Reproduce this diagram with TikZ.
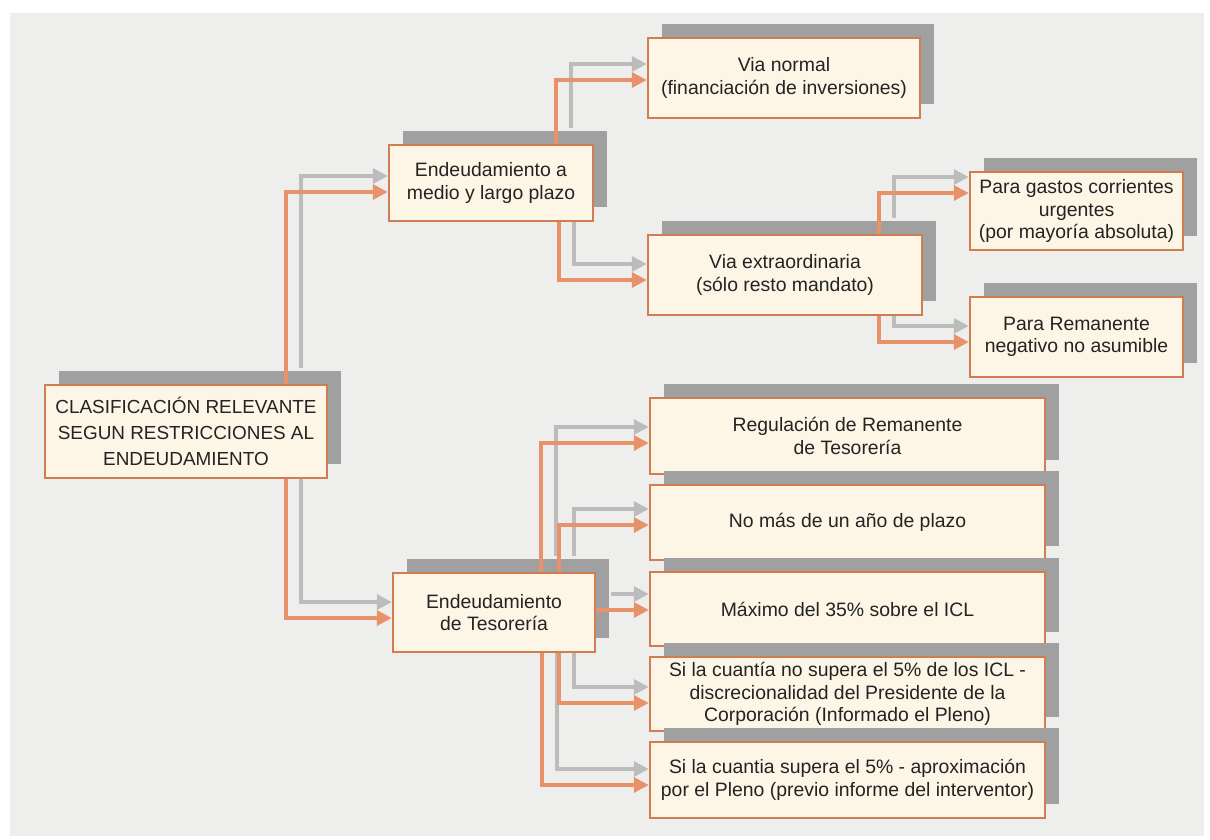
\documentclass[tikz,border=0pt]{standalone}
\usepackage{fontspec}
\setmainfont{Liberation Sans}
\usetikzlibrary{arrows.meta,shadows}
\definecolor{bgc}{RGB}{238,238,237}
\definecolor{boxline}{RGB}{208,125,82}
\definecolor{boxfill}{RGB}{253,246,231}
\definecolor{shadowc}{RGB}{160,160,160}
\definecolor{oc}{RGB}{231,146,104}
\definecolor{gc}{RGB}{188,188,188}
\definecolor{txt}{RGB}{35,35,35}
\pgfdeclarelayer{back}
\pgfdeclarelayer{glines}
\pgfsetlayers{back,glines,main}
\newcommand\twin[1]{%
  \begin{pgfonlayer}{glines}\draw[gline,transform canvas={xshift=15pt,yshift=16pt}] #1;\end{pgfonlayer}%
  \draw[oline] #1;}
\begin{document}
\begin{tikzpicture}[x=1pt,y=-1pt,
  box/.style={draw=boxline, line width=2.5pt, fill=boxfill, inner sep=0pt, align=center, text=txt,
    font=\fontsize{19.4}{22.5}\selectfont,
    drop shadow={shadow xshift=14pt, shadow yshift=14pt, fill=shadowc, opacity=1}},
  oline/.style={draw=oc, line width=3.5pt, -{Triangle[length=15pt,width=15pt]}},
  gline/.style={draw=gc, line width=3.5pt, -{Triangle[length=15pt,width=15pt]}, shorten >=15pt},
]
\useasboundingbox (0,0) rectangle (1210,839);
\begin{pgfonlayer}{back}
  \fill[white] (0,0) rectangle (1210,839);
  \fill[bgc] (10,13) rectangle (1204,836);
\end{pgfonlayer}

\node[box, minimum width=282pt, minimum height=93pt, font=\fontsize{18.9}{26}\selectfont] (root) at (186,431.5)
  {CLASIFICACIÓN RELEVANTE\\SEGUN RESTRICCIONES AL\\ENDEUDAMIENTO};
\node[box, minimum width=204pt, minimum height=76pt] (medio) at (491,183)
  {Endeudamiento a\\medio y largo plazo};
\node[box, minimum width=272pt, minimum height=80pt] (vnormal) at (784,78)
  {Via normal\\(financiación de inversiones)};
\node[box, minimum width=274pt, minimum height=80pt] (vextra) at (785,275)
  {Via extraordinaria\\(sólo resto mandato)};
\node[box, minimum width=213pt, minimum height=78pt] (gastos) at (1076.5,211)
  {Para gastos corrientes\\urgentes\\(por mayoría absoluta)};
\node[box, minimum width=213pt, minimum height=80pt] (reman) at (1076.5,337)
  {Para Remanente\\negativo no asumible};
\node[box, minimum width=395pt, minimum height=76pt] (regul) at (847.5,436)
  {Regulación de Remanente\\de Tesorería};
\node[box, minimum width=395pt, minimum height=75pt] (nomas) at (847.5,522.5)
  {No más de un año de plazo};
\node[box, minimum width=395pt, minimum height=74pt] (maximo) at (847.5,609)
  {Máximo del 35\% sobre el ICL};
\node[box, minimum width=395pt, minimum height=74pt] (nosupera) at (847.5,694)
  {Si la cuantía no supera el 5\% de los ICL -\\discrecionalidad del Presidente de la\\Corporación (Informado el Pleno)};
\node[box, minimum width=395pt, minimum height=76pt] (supera) at (847.5,780)
  {Si la cuantia supera el 5\% - aproximación\\por el Pleno (previo informe del interventor)};
\node[box, minimum width=202pt, minimum height=79pt] (teso) at (494,612.5)
  {Endeudamiento\\de Tesorería};

\twin{([xshift=242pt]root.north west) |- ([yshift=-9pt]medio.west)}
\twin{([xshift=242pt]root.south west) |- ([yshift=-5.5pt]teso.west)}
\twin{([xshift=168pt]medio.north west) |- ([yshift=-2pt]vnormal.west)}
\twin{([xshift=171pt]medio.south west) |- ([yshift=-5pt]vextra.west)}
\twin{([xshift=232pt]vextra.north west) |- ([yshift=18pt]gastos.west)}
\twin{([xshift=232pt]vextra.south west) |- ([yshift=-5pt]reman.west)}
\twin{([xshift=149pt]teso.north west) |- ([yshift=-7pt]regul.west)}
\twin{([xshift=167pt]teso.north west) |- ([yshift=-2.5pt]nomas.west)}
\twin{([yshift=2.5pt]teso.east) -- ([yshift=-1pt]maximo.west)}
\twin{([xshift=167pt]teso.south west) |- ([yshift=-9pt]nosupera.west)}
\twin{([xshift=150pt]teso.south west) |- ([yshift=-5pt]supera.west)}
\end{tikzpicture}
\end{document}
